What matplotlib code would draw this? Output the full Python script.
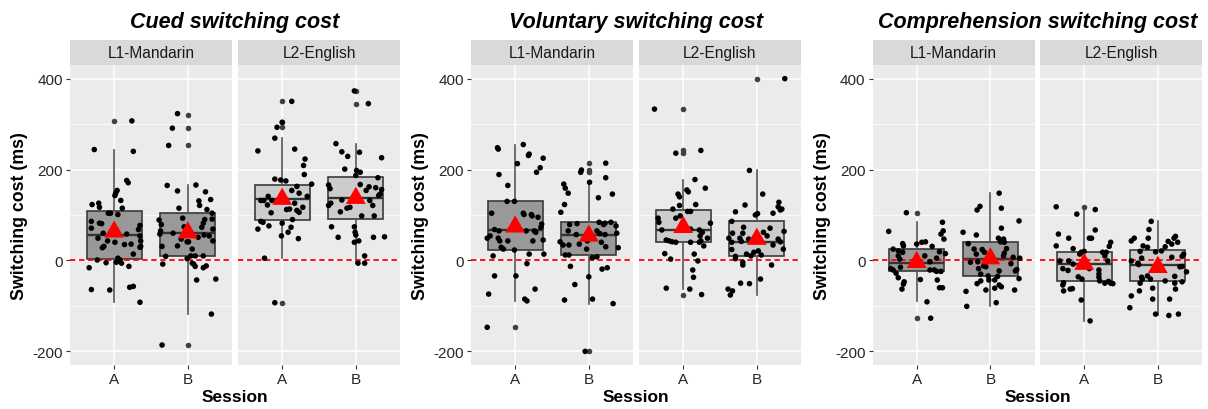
import matplotlib.pyplot as plt

plt.rcParams['font.family'] = ['Liberation Sans', 'DejaVu Sans']
plt.rcParams['axes.unicode_minus'] = False

titles = ["Cued switching cost", "Voluntary switching cost", "Comprehension switching cost"]
languages = ["L1-Mandarin", "L2-English"]
sessions = ["A", "B"]
y_ticks = [-200, 0, 200, 400]

# box stats (whislo, q1, median, q3, whishi, mean) for L1-A, L1-B, L2-A, L2-B
cued_box = [(-92, 4, 57, 108, 244, 63), (-118, 10, 60, 105, 166, 61),
            (5, 90, 135, 165, 269, 135), (-6, 91, 137, 184, 257, 137)]
vol_box = [(-89, 24, 67, 130, 255, 74), (-95, 11, 57, 84, 174, 54),
           (-63, 40, 66, 111, 178, 73), (-76, 10, 40, 87, 198, 47)]
comp_box = [(-90, -24, -5, 26, 84, -4), (-101, -34, 4, 41, 148, 4),
            (-133, -46, -7, 18, 112, -8), (-121, -46, -10, 23, 86, -15)]

# boxplot outliers
cued_out = [[307], [321, 291, 253, -186], [350, 304, 293, -93], [373, 345]]
vol_out = [[-147], [214, 199, 194, -200], [333, 242, 237, -75], [400]]
comp_out = [[105, -127], [], [118], []]

# jittered points: (x offset from session, switching cost)
cued_l1_a = [(0.24, 307), (-0.27, 244), (0.26, 240), (0.17, 176), (0.19, 171), (0.04, 154), (0.02, 148),
             (0.01, 143), (0.09, 132), (0.11, 115), (-0.30, 123), (-0.21, 126), (-0.20, 117), (-0.08, 104),
             (-0.05, 104), (0.05, 101), (-0.31, 86), (-0.20, 82), (-0.17, 81), (0.35, 77), (0.33, 68),
             (-0.31, 71), (-0.15, 60), (0.17, 58), (-0.22, 49), (-0.09, 43), (0.01, 40), (0.35, 54),
             (0.36, 43), (-0.14, 31), (-0.16, 28), (0.14, 35), (0.23, 36), (0.36, 31), (0.35, 29),
             (0.26, 14), (-0.23, 1), (-0.11, -5), (0.05, 5), (0.08, 1), (0.03, -4), (0.10, -6),
             (-0.34, -16), (0.20, -13), (-0.31, -64), (-0.06, -65), (0.21, -59), (0.26, -57), (0.35, -92)]
cued_l1_b = [(-0.14, 323), (-0.21, 291), (-0.26, 253), (-0.28, 165), (-0.14, 153), (0.11, 166), (0.24, 151),
             (0.31, 134), (0.15, 131), (0.16, 121), (-0.12, 115), (0.26, 112), (0.33, 104), (-0.39, 89),
             (-0.36, 79), (-0.07, 93), (0.23, 90), (0.21, 82), (0.33, 91), (0.19, 73), (0.34, 69),
             (-0.05, 74), (-0.37, 65), (-0.38, 58), (-0.20, 60), (-0.09, 47), (-0.01, 41), (0.14, 51),
             (0.22, 56), (0.29, 54), (0.34, 43), (-0.35, 31), (-0.14, 32), (0.01, 41), (0.06, 25),
             (0.04, 10), (-0.30, 9), (-0.01, 4), (0.10, 10), (0.21, 10), (-0.34, -8), (0.08, -8),
             (0.10, -13), (0.06, -6), (0.21, -16), (0.25, -12), (0.12, -43), (0.38, -41), (0.32, -118),
             (-0.35, -186)]
cued_l2_a = [(0.13, 350), (0.00, 304), (-0.07, 293), (-0.10, 269), (-0.33, 241), (0.17, 245), (0.31, 223),
             (0.29, 209), (0.30, 189), (0.40, 168), (-0.10, 179), (-0.02, 177), (0.05, 175), (0.20, 163),
             (0.13, 154), (0.23, 148), (0.34, 141), (-0.29, 132), (-0.25, 132), (-0.19, 141), (-0.20, 122),
             (-0.14, 132), (0.17, 126), (0.28, 117), (0.20, 110), (0.23, 106), (-0.15, 105), (0.06, 112),
             (0.10, 113), (-0.29, 86), (-0.26, 84), (-0.18, 76), (-0.33, 69), (0.00, 82), (0.14, 90),
             (0.12, 73), (0.08, 62), (-0.01, 54), (0.22, 48), (-0.24, 5), (-0.10, -93)]
cued_l2_b = [(-0.02, 373), (0.17, 345), (-0.27, 257), (-0.19, 239), (-0.11, 229), (0.05, 238), (0.35, 226),
             (-0.15, 201), (0.01, 198), (0.06, 194), (0.00, 187), (0.30, 182), (-0.37, 166), (-0.35, 158),
             (0.06, 167), (0.18, 162), (0.14, 154), (0.27, 160), (0.35, 156), (0.31, 143), (0.33, 146),
             (-0.34, 126), (-0.37, 121), (-0.19, 133), (-0.08, 117), (-0.12, 115), (-0.21, 107), (0.19, 132),
             (0.23, 121), (0.08, 98), (0.25, 98), (-0.33, 74), (-0.02, 74), (-0.01, 62), (0.00, 56),
             (-0.24, 51), (-0.02, 40), (0.04, 43), (0.24, 51), (0.39, 52), (0.03, -6), (0.12, -6), (0.12, 10)]

vol_l1_a = [(-0.24, 248), (-0.23, 245), (0.11, 255), (0.18, 231), (0.19, 234), (0.38, 225), (0.03, 213),
            (0.34, 204), (0.29, 194), (-0.22, 189), (-0.10, 165), (-0.11, 130), (-0.01, 130), (-0.32, 104),
            (0.11, 104), (0.12, 101), (0.22, 101), (0.23, 98), (0.31, 95), (0.36, 80), (0.35, 73),
            (-0.28, 68), (-0.22, 65), (-0.38, 49), (-0.34, 54), (-0.23, 49), (-0.21, 43), (-0.10, 43),
            (0.15, 65), (0.26, 65), (0.28, 62), (0.24, 43), (0.38, 45), (-0.19, 29), (-0.16, 25),
            (-0.01, 23), (0.19, 14), (0.39, 14), (-0.30, 10), (0.16, -7), (-0.28, -34), (0.01, -34),
            (0.27, -63), (-0.36, -74), (0.13, -85), (0.16, -89), (-0.38, -147)]
vol_l1_b = [(-0.10, 199), (-0.11, 194), (0.23, 214), (0.23, 182), (-0.34, 168), (-0.32, 159), (-0.28, 148),
            (0.01, 172), (0.13, 138), (0.32, 146), (-0.33, 123), (-0.38, 106), (-0.26, 79), (-0.16, 81),
            (-0.28, 65), (-0.17, 57), (0.14, 84), (0.20, 79), (0.22, 82), (0.30, 84), (0.37, 76),
            (0.38, 60), (0.11, 65), (0.15, 59), (0.22, 57), (-0.39, 41), (-0.35, 34), (-0.27, 34),
            (-0.13, 36), (-0.02, 43), (-0.03, 25), (0.17, 40), (0.23, 30), (0.40, 28), (-0.32, 12),
            (-0.27, 12), (0.11, 8), (0.05, 6), (-0.25, -13), (0.18, -19), (0.25, -16), (0.00, -36),
            (-0.19, -53), (-0.33, -87), (0.05, -85), (0.33, -95), (-0.05, -200)]
vol_l2_a = [(-0.39, 333), (-0.10, 236), (0.24, 242), (0.16, 178), (0.30, 159), (-0.07, 146), (-0.05, 140),
            (0.05, 155), (0.07, 151), (0.17, 123), (-0.05, 121), (-0.14, 113), (0.06, 108), (0.10, 108),
            (-0.34, 93), (-0.33, 84), (-0.10, 93), (-0.04, 98), (0.37, 82), (-0.29, 67), (0.10, 69),
            (0.22, 67), (0.26, 62), (0.23, 54), (0.33, 49), (-0.23, 45), (-0.19, 43), (-0.15, 41),
            (-0.10, 40), (0.10, 40), (0.22, 40), (0.24, 43), (0.28, 32), (-0.25, 15), (0.15, 14),
            (-0.17, 3), (0.20, -1), (0.13, -21), (0.14, -37), (-0.23, -61), (0.09, -63), (0.25, -75)]
vol_l2_b = [(0.38, 400), (-0.10, 198), (0.08, 146), (-0.29, 107), (-0.16, 122), (0.30, 128), (0.29, 118),
            (0.32, 111), (0.34, 113), (0.22, 104), (-0.02, 100), (0.01, 103), (-0.18, 73), (-0.34, 86),
            (-0.33, 60), (-0.19, 60), (0.18, 71), (0.37, 64), (-0.38, 49), (-0.34, 40), (-0.23, 49),
            (-0.21, 42), (-0.11, 47), (0.09, 62), (0.14, 54), (0.29, 47), (0.32, 41), (0.22, 34),
            (0.36, 25), (-0.34, 24), (-0.04, 18), (0.02, 21), (-0.08, 10), (-0.14, 14), (-0.29, 9),
            (0.06, 12), (-0.29, 4), (-0.19, -4), (-0.19, -10), (0.20, -10), (0.05, -41), (-0.22, -50),
            (-0.10, -51), (-0.39, -63), (-0.33, -67), (-0.36, -76)]

comp_l1_a = [(-0.14, 105), (-0.38, 64), (0.35, 84), (0.36, 65), (0.33, 58), (0.37, 47), (-0.19, 37),
             (-0.18, 32), (-0.32, 25), (-0.25, 21), (-0.19, 18), (0.00, 36), (0.07, 40), (0.12, 41),
             (0.21, 31), (0.39, 15), (0.31, 19), (0.27, 5), (0.11, 10), (-0.23, 3), (-0.25, 10),
             (0.18, -3), (-0.35, -18), (-0.32, -21), (-0.28, -28), (-0.22, -15), (0.18, -21), (0.24, -21),
             (0.27, -24), (0.33, -24), (-0.25, -38), (-0.17, -47), (0.05, -42), (0.28, -43), (-0.18, -52),
             (-0.20, -63), (0.31, -60), (0.35, -60), (0.14, -91), (0.19, -127)]
comp_l1_b = [(0.12, 148), (-0.14, 119), (-0.18, 111), (0.15, 115), (0.39, 87), (0.15, 71), (-0.37, 62),
             (-0.19, 56), (0.11, 49), (0.18, 47), (0.19, 40), (0.14, 41), (-0.30, 37), (-0.22, 25),
             (-0.19, 14), (-0.11, 24), (-0.08, 18), (0.22, 26), (0.19, 16), (0.18, 10), (0.31, 7),
             (0.40, 5), (-0.27, -4), (-0.17, -3), (-0.16, -18), (-0.09, -12), (-0.06, -14), (0.28, -7),
             (0.34, -23), (0.36, -20), (-0.03, -34), (0.12, -23), (-0.13, -30), (0.10, -35), (-0.13, -45),
             (-0.02, -43), (0.06, -43), (0.39, -40), (-0.18, -51), (0.12, -54), (0.06, -61), (0.15, -58),
             (-0.06, -65), (-0.33, -68), (0.33, -65), (0.08, -93), (-0.32, -101)]
comp_l2_a = [(-0.38, 118), (0.15, 112), (-0.10, 102), (0.15, 67), (-0.35, 58), (-0.21, 49), (-0.38, 32),
             (-0.15, 26), (0.07, 49), (0.10, 49), (0.36, 40), (0.34, 31), (-0.04, 18), (0.00, 20),
             (0.25, 18), (0.30, 18), (0.28, 10), (-0.33, -1), (-0.21, -1), (-0.15, -8), (-0.06, 14),
             (0.32, -1), (-0.29, -18), (-0.22, -22), (0.07, -18), (0.20, -21), (0.20, -30), (-0.08, -36),
             (-0.03, -41), (0.20, -37), (0.21, -45), (-0.28, -49), (-0.29, -54), (0.28, -50), (0.33, -46),
             (0.36, -50), (0.39, -51), (-0.19, -63), (-0.16, -62), (-0.28, -67), (-0.04, -87), (0.08, -133)]
comp_l2_b = [(-0.09, 86), (-0.12, 68), (-0.36, 43), (-0.32, 49), (-0.13, 49), (-0.20, 32), (-0.14, 29),
             (0.14, 42), (0.19, 36), (0.22, 49), (0.24, 53), (0.27, 40), (0.10, 30), (-0.24, 20),
             (-0.03, 19), (0.05, 21), (0.35, 14), (0.33, 9), (-0.36, -1), (-0.27, -6), (-0.26, -9),
             (-0.22, 5), (0.19, 7), (0.30, -14), (0.33, -13), (0.39, -25), (-0.14, -34), (-0.22, -37),
             (-0.21, -41), (-0.10, -41), (0.10, -45), (0.23, -35), (0.23, -50), (0.33, -47), (0.24, -63),
             (-0.24, -50), (-0.25, -67), (-0.07, -61), (-0.36, -78), (-0.07, -85), (0.16, -85),
             (-0.38, -104), (-0.03, -118), (0.15, -121), (0.28, -118)]

boxes = [cued_box, vol_box, comp_box]
outliers = [cued_out, vol_out, comp_out]
points = [[cued_l1_a, cued_l1_b, cued_l2_a, cued_l2_b],
          [vol_l1_a, vol_l1_b, vol_l2_a, vol_l2_b],
          [comp_l1_a, comp_l1_b, comp_l2_a, comp_l2_b]]

W, H = 1208, 410
fig = plt.figure(figsize=(W / 100, H / 100), dpi=100)


def px_axes(x, y, w, h):
    return fig.add_axes([x / W, 1 - (y + h) / H, w / W, h / H])


facet_left = [[70, 238], [471, 639], [872.5, 1040]]
fills = ['#999999', '#cccccc']
tri = [(0, 1), (-0.866, -0.5), (0.866, -0.5)]

for p in range(3):
    for f in range(2):
        ax = px_axes(facet_left[p][f], 66, 162, 300)
        ax.set_facecolor('#ebebeb')
        for s in ax.spines.values():
            s.set_visible(False)
        ax.set_xlim(0.4, 2.6)
        ax.set_ylim(-230, 430)
        ax.set_yticks(y_ticks)
        ax.set_yticks([-100, 100, 300], minor=True)
        ax.set_axisbelow(True)
        ax.grid(True, which='major', color='white', lw=1.1)
        ax.grid(True, which='minor', axis='y', color='white', lw=0.55)
        ax.tick_params(which='minor', length=0)
        ax.tick_params(which='major', length=3, width=0.8, color='#333333',
                       labelsize=11, labelcolor='#262626', pad=2)
        if f == 1:
            ax.tick_params(axis='y', length=0, labelleft=False)

        stats = []
        for s in range(2):
            lo, q1, med, q3, hi, mean = boxes[p][f * 2 + s]
            stats.append({'whislo': lo, 'q1': q1, 'med': med, 'q3': q3, 'whishi': hi,
                          'fliers': outliers[p][f * 2 + s], 'label': sessions[s]})
        ax.bxp(stats, positions=[1, 2], widths=0.75, patch_artist=True, showcaps=False,
               boxprops=dict(facecolor=fills[f], edgecolor='#3a3a3a', lw=1.2),
               medianprops=dict(color='#333333', lw=1.7),
               whiskerprops=dict(color='#555555', lw=1.2),
               flierprops=dict(marker='o', markerfacecolor='#404040', markeredgecolor='none',
                               markersize=4),
               zorder=2)
        ax.set_xticks([1, 2])
        ax.set_xticklabels(sessions)
        ax.axhline(0, color='red', lw=1.3, ls=(0, (3, 2)), zorder=3)

        for s in range(2):
            pts = points[p][f * 2 + s]
            ax.scatter([1 + s + dx for dx, v in pts], [v for dx, v in pts],
                       s=16, color='black', edgecolors='none', zorder=4)
            ax.scatter([1 + s], [boxes[p][f * 2 + s][5]], marker=tri, s=16.5 ** 2,
                       color='red', edgecolors='none', zorder=5)

        st = px_axes(facet_left[p][f], 40.5, 162, 25.5)
        st.set_facecolor('#d9d9d9')
        st.set_xticks([])
        st.set_yticks([])
        for s in st.spines.values():
            s.set_visible(False)
        st.text(0.5, 0.5, languages[f], ha='center', va='center', fontsize=11.2,
                color='#1a1a1a', transform=st.transAxes)

    cx = facet_left[p][0] + 165
    fig.text(cx / W, 1 - 28 / H, titles[p], ha='center', va='baseline',
             fontsize=15.5, fontweight='bold', style='italic')
    fig.text(cx / W, 1 - 398 / H, 'Session', ha='center', va='center',
             fontsize=12.5, fontweight='bold')
    fig.text((facet_left[p][0] - 50) / W, 1 - 216 / H, 'Switching cost (ms)', rotation=90,
             ha='center', va='center', fontsize=12.8, fontweight='bold')

fig.savefig('out.png', dpi=100)
